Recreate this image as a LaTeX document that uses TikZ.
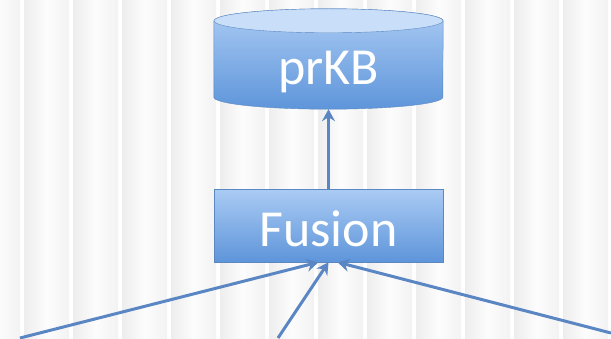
\documentclass[tikz,border=0pt]{standalone}
\usepackage{fontspec}
\setmainfont{Carlito}
\usetikzlibrary{arrows.meta,calc,backgrounds}

\definecolor{linkblue}{HTML}{5A87C3}
\definecolor{boxtop}{HTML}{AACBF4}
\definecolor{boxbot}{HTML}{5E95DA}
\definecolor{boxedge}{HTML}{5C88C0}
\definecolor{lidfill}{HTML}{C9DEF8}

\begin{document}
\begin{tikzpicture}[x=1pt,y=1pt]
        \tikzset{store/.style = {shape=rectangle,minimum width=229pt,minimum height=100pt,
                text=white,text height=52pt,text depth=0pt,
                font=\fontsize{52}{60}\selectfont,inner sep=0pt}};
        \tikzset{stage/.style = {shape=rectangle,minimum width=229pt,minimum height=73pt,
                draw=boxedge,top color=boxtop,bottom color=boxbot,text=white,
                text height=42pt,text depth=0pt,
                font=\fontsize{52}{60}\selectfont,inner sep=0pt}};
        \tikzset{link/.style = {draw=linkblue,line width=3pt,
                -{Stealth[length=12pt,width=13pt,inset=4pt]}}};
        \useasboundingbox (0,0) rectangle (611,338);
        \node[store] (kb) at (328.5,279) {prKB};
        \node[stage] (fusion) at (328.5,112.5) {Fusion};
        \begin{scope}[on background layer]
            % striped backdrop
            \fill[white] (0,0) rectangle (611,338);
            \foreach \i in {-1,...,12}
                \shade[left color=black!7,right color=black!5,middle color=black!1]
                (24+49*\i,0) rectangle (69+49*\i,338);
            % drum of the store
            \path[draw=boxedge,top color=boxtop,bottom color=boxbot]
                ($(kb.north west)+(0,-12)$) -- ($(kb.south west)+(0,12)$)
                arc (180:360:114.5 and 12) -- ($(kb.north east)+(0,-12)$)
                arc (0:180:114.5 and 12) -- cycle;
            \path[fill=lidfill,draw=boxedge] ($(kb.north)+(0,-12)$) ellipse (114.5 and 12);
        \end{scope}
        \coordinate (srcA) at (20,0);
        \coordinate (srcB) at (278,0);
        \coordinate (srcC) at (611,5);
        \draw[link] (fusion.north) -- (kb.south);
        \draw[link] (srcA) -- ($(fusion.south)+(-10,0)$);
        \draw[link] (srcB) -- (fusion.south);
        \draw[link] (srcC) -- ($(fusion.south)+(9,0)$);
    \end{tikzpicture}
\end{document}
